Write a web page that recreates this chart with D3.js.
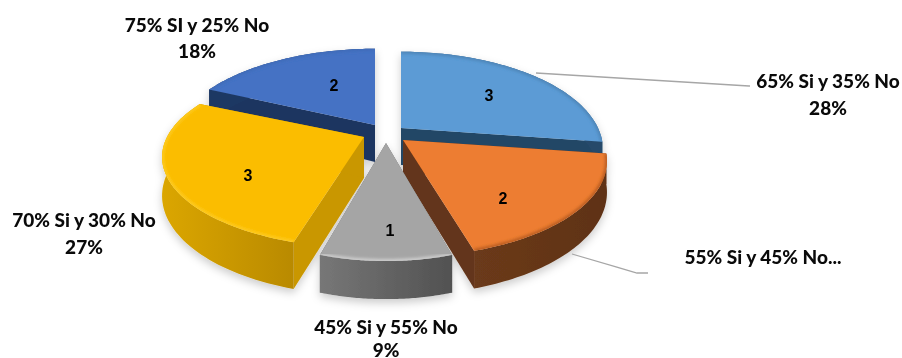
<!DOCTYPE html>
<html><head><meta charset="utf-8">
<script src="https://cdn.jsdelivr.net/npm/d3@7/dist/d3.min.js"></script>
<style>html,body{margin:0;padding:0;background:#fff}svg{display:block}</style>
</head><body><svg id="c" width="902" height="358"></svg>
<script>
// data
const categories = ["65% Si y 35% No","55% Si y 45% No...","45% Si y 55% No","70% Si y 30% No","75% SI y 25% No"];
const counts = [3,2,1,3,2];
const percents = ["28%","","9%","27%","18%"];
// styles
const topColors = ["#5b9bd5","#ed7d31","#a5a5a5","#fbbd00","#4472c4"];
const wallLeft  = ["#264a6b","#6b3a1a","#777777","#dba600","#1f3864"];
const wallRight = ["#264a6b","#5f3216","#515151","#b98a00","#1f3864"];
const cutColors = ["#234666","#63351a","#666666","#c99700","#1f3560"];
const rimColors = ["#4a7fb0","#b85c20","#cfcfcf","#ffd22e","#3f69b5"];
const rimOpacity = [.8,1,1,.65,.8];
// layout
const apex = [[401,128],[403,140],[386,143],[364,137],[375,125]];
const xScale = [1,1.01,.94,1,1.01];
const yScale = [1,.98,.99,.93,1];
const depths = [37,33,33,41,37];
const labelPos = [[828,80,107],[763,256,null],[386,326,349],[84,219,246],[197,24,50]];
const numPos = [[489,95],[503,198],[390,230],[248,175],[334,85]];
const drawOrder = [4,0,1,3,2];
const a = 197, b = 93, p = 0.22;

const svg = d3.select("#c");
const defs = svg.append("defs");
const sh = defs.append("filter").attr("id","sh").attr("x","-20%").attr("y","-20%").attr("width","140%").attr("height","140%");
sh.append("feDropShadow").attr("dx",0).attr("dy",4).attr("stdDeviation",4).attr("flood-color","#000").attr("flood-opacity",.2);
defs.append("filter").attr("id","bl").append("feGaussianBlur").attr("stdDeviation",1.5);

const pie = d3.pie().sort(null).startAngle(0).endAngle(2*Math.PI);
const arcs = pie(counts);
const line = d3.line().x(d=>d[0]).y(d=>d[1]);

function proj(i,t){
  const s=Math.sin(t), c=-Math.cos(t), w=1-p*c;
  return [apex[i][0]+xScale[i]*a*s/w, apex[i][1]+yScale[i]*b*c/w];
}
function down(i,pt,t){
  const c=-Math.cos(t), w=1-p*c;
  return [pt[0],pt[1]+depths[i]/w*.9];
}
const sample=(s,e)=>d3.range(0,61).map(k=>s+(e-s)*k/60);

const g = svg.append("g").attr("filter","url(#sh)");
drawOrder.forEach(i=>{
  const d=arcs[i], ts=sample(d.startAngle,d.endAngle);
  const edge=ts.map(t=>proj(i,t));
  const ap=apex[i];
  const grad=defs.append("linearGradient").attr("id","w"+i);
  grad.append("stop").attr("offset","0%").attr("stop-color",wallLeft[i]);
  grad.append("stop").attr("offset","100%").attr("stop-color",wallRight[i]);
  const gs=g.append("g");
  // cut faces
  [d.startAngle,d.endAngle].forEach(t=>{
    const e=proj(i,t), apd=[ap[0],ap[1]+depths[i]];
    gs.append("path").attr("d",line([ap,e,down(i,e,t),apd])+"Z").attr("fill",cutColors[i]);
  });
  // outer wall
  const wall=edge.concat(ts.map((t,k)=>down(i,edge[k],t)).reverse());
  gs.append("path").attr("d",line(wall)+"Z").attr("fill",`url(#w${i})`);
  // top face
  const top=[ap].concat(edge);
  const cid="t"+i;
  defs.append("clipPath").attr("id",cid).append("path").attr("d",line(top)+"Z");
  gs.append("path").attr("d",line(top)+"Z").attr("fill",topColors[i]);
  // bevel along rim
  gs.append("g").attr("clip-path",`url(#${cid})`).append("path")
    .attr("d",line(edge)).attr("fill","none").attr("stroke",rimColors[i]).attr("stroke-opacity",rimOpacity[i])
    .attr("stroke-width",4).attr("filter","url(#bl)");
});

// leader lines
const leaders=[[[536,73],[749,86],[750,86]],[[572,254],[637,273],[648,273]]];
svg.append("g").selectAll("path").data(leaders).join("path")
  .attr("d",d=>line(d)).attr("fill","none").attr("stroke","#a6a6a6").attr("stroke-width",1.3);

// labels
const font="Lato, 'Open Sans', sans-serif";
const lab=svg.append("g").attr("font-family",font).attr("font-weight",900).attr("font-size",19)
  .attr("fill","#0a0a0a").attr("text-anchor","middle").attr("dominant-baseline","central");
categories.forEach((c,i)=>{
  const q=labelPos[i];
  lab.append("text").attr("x",q[0]).attr("y",q[1]).text(c);
  if(q[2]!==null && percents[i]) lab.append("text").attr("x",q[0]).attr("y",q[2]).text(percents[i]);
});
svg.append("g").attr("font-family","'Liberation Sans',Arial,sans-serif").attr("font-weight",700).attr("font-size",16)
  .attr("fill","#000").attr("text-anchor","middle").attr("dominant-baseline","central")
  .selectAll("text").data(counts).join("text")
  .attr("x",(d,i)=>numPos[i][0]).attr("y",(d,i)=>numPos[i][1]).text(d=>d);
</script></body></html>
